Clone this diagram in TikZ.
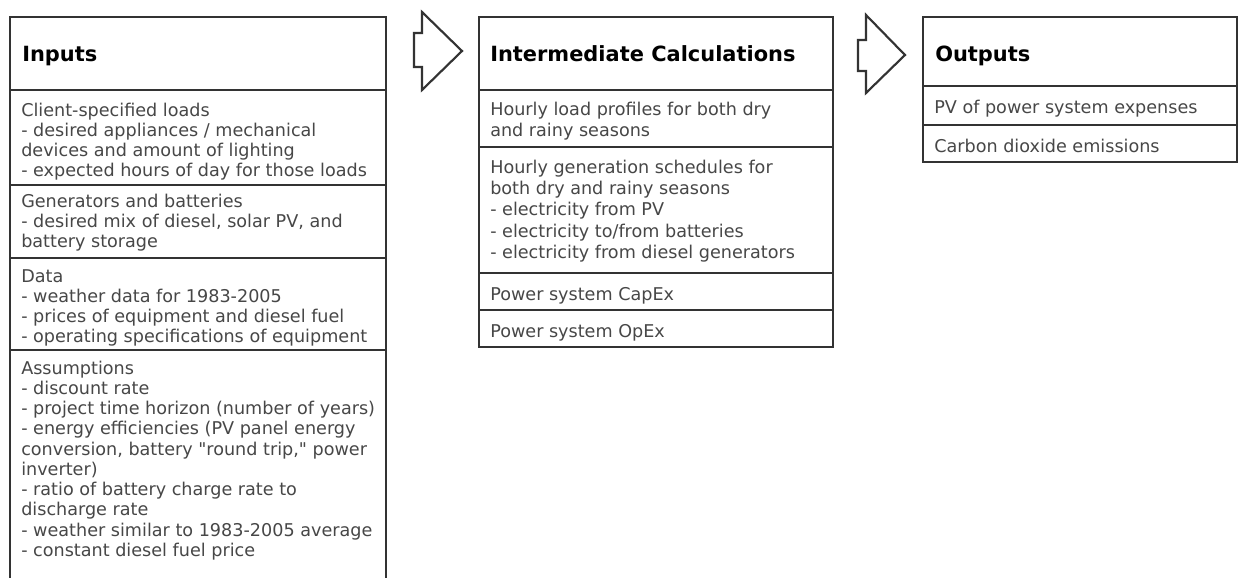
\documentclass[tikz,border=0pt]{standalone}
\usepackage{fontspec}
\setmainfont{DejaVu Sans}
\definecolor{boxline}{HTML}{333333}
\definecolor{bodytext}{HTML}{474747}
\newcommand\lnsA[1]{\vtop{\baselineskip=15.2pt\lineskiplimit=-20pt\lineskip=0pt #1}}
\newcommand\lnsB[1]{\vtop{\baselineskip=16.1pt\lineskiplimit=-20pt\lineskip=0pt #1}}
\begin{document}
\begin{tikzpicture}[x=0.75pt,y=-0.75pt,
  boxln/.style={draw=boxline,line width=1.8pt},
  arrowshape/.style={draw=boxline,line width=1.6pt,line join=miter,fill=white},
  hdr/.style={anchor=base west,inner sep=0pt,font=\fontsize{15.7pt}{18pt}\bfseries,text=black},
  bodytxt/.style={anchor=base west,inner sep=0pt,font=\fontsize{13.2pt}{15.2pt}\selectfont,text=bodytext}]
\useasboundingbox (0,0) rectangle (1239,578);
\fill[white] (0,0) rectangle (1239,578);

% ---------- Inputs column ----------
\draw[boxln] (10,600) -- (10,17) -- (386,17) -- (386,600);
\draw[boxln] (10,90) -- (386,90);
\draw[boxln] (10,185) -- (386,185);
\draw[boxln] (10,258) -- (386,258);
\draw[boxln] (10,350) -- (386,350);

\node[hdr] (inputs) at (22,61) {Inputs};
\node[bodytxt] (client) at (21,116) {\lnsA{\hbox{Client-specified loads}\hbox{- desired appliances / mechanical}\hbox{devices and amount of lighting}\hbox{- expected hours of day for those loads}}};
\node[bodytxt] (gens) at (21,207) {\lnsA{\hbox{Generators and batteries}\hbox{- desired mix of diesel, solar PV, and}\hbox{battery storage}}};
\node[bodytxt] (data) at (21,282) {\lnsA{\hbox{Data}\hbox{- weather data for 1983-2005}\hbox{- prices of equipment and diesel fuel}\hbox{- operating specifications of equipment}}};
\node[bodytxt] (assum) at (21,374) {\lnsA{\hbox{Assumptions}\hbox{- discount rate}\hbox{- project time horizon (number of years)}\hbox{- energy efficiencies (PV panel energy}\hbox{conversion, battery \textquotedbl round trip,\textquotedbl{} power}\hbox{inverter)}\hbox{- ratio of battery charge rate to}\hbox{discharge rate}\hbox{- weather similar to 1983-2005 average}\hbox{- constant diesel fuel price}}};

% ---------- Arrow 1 ----------
\coordinate (a1) at (422,12);
\draw[arrowshape] (a1) -- (462,51) -- (422,90) -- (422,67) -- (414,67) -- (414,33) -- (422,33) -- cycle;

% ---------- Intermediate column ----------
\draw[boxln] (479,17) rectangle (833,347);
\draw[boxln] (479,90) -- (833,90);
\draw[boxln] (479,147) -- (833,147);
\draw[boxln] (479,273) -- (833,273);
\draw[boxln] (479,310) -- (833,310);

\node[hdr] (inter) at (490,61) {Intermediate Calculations};
\node[bodytxt] (load) at (490,115) {\lnsB{\hbox{Hourly load profiles for both dry}\hbox{and rainy seasons}}};
\node[bodytxt] (gensched) at (490,173) {\lnsB{\hbox{Hourly generation schedules for}\hbox{both dry and rainy seasons}\hbox{- electricity from PV}\hbox{- electricity to/from batteries}\hbox{- electricity from diesel generators}}};
\node[bodytxt] (capex) at (490,300) {Power system CapEx};
\node[bodytxt] (opex) at (490,337) {Power system OpEx};

% ---------- Arrow 2 ----------
\coordinate (a2) at (866,15);
\draw[arrowshape] (a2) -- (905,55) -- (866,93) -- (866,71) -- (858,71) -- (858,40) -- (866,40) -- cycle;

% ---------- Outputs column ----------
\draw[boxln] (923,17) rectangle (1237,162);
\draw[boxln] (923,86) -- (1237,86);
\draw[boxln] (923,125) -- (1237,125);

\node[hdr] (outputs) at (935,61) {Outputs};
\node[bodytxt] (pv) at (934,113) {PV of power system expenses};
\node[bodytxt] (co2) at (934,152) {Carbon dioxide emissions};
\end{tikzpicture}
\end{document}
